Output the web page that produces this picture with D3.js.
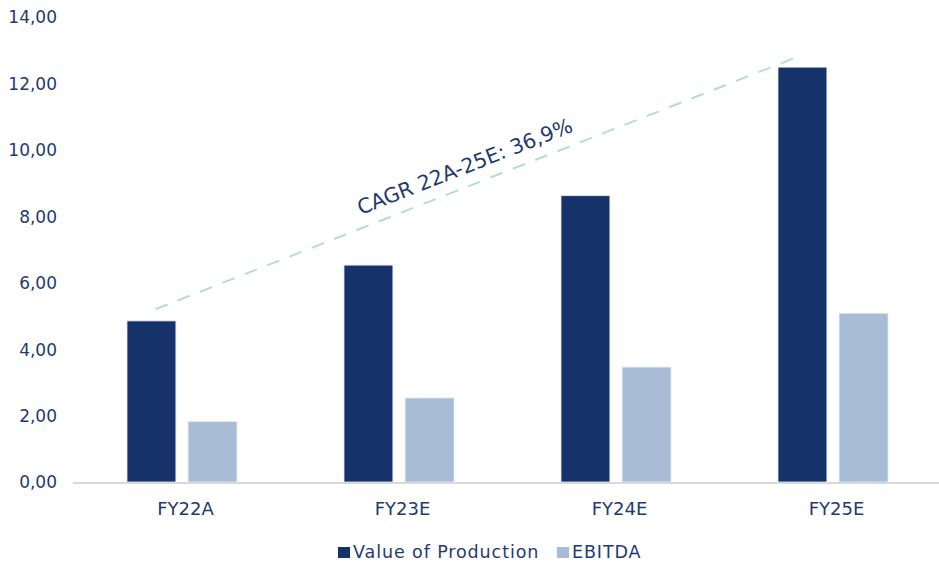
<!DOCTYPE html>
<html>
<head>
<meta charset="utf-8">
<script src="https://cdn.jsdelivr.net/npm/d3@7"></script>
<style>
  body { margin: 0; background: #fff; }
  text { font-family: 'DejaVu Sans', 'Open Sans', sans-serif; }
</style>
</head>
<body>
<div id="chart"></div>
<script>
const categories = ['FY22A', 'FY23E', 'FY24E', 'FY25E']
const seriesNames = ['Value of Production', 'EBITDA']
const valueOfProduction = [4.85, 6.53, 8.62, 12.49]
const ebitda = [1.82, 2.53, 3.46, 5.08]
const yTicks = [0, 2, 4, 6, 8, 10, 12, 14]
const cagrLabel = 'CAGR 22A-25E: 36,9%'
const cagrFrom = 5.2
const cagrTo = 12.8

const width = 939
const height = 567
const margin = { top: 17, right: 0, bottom: 85, left: 73 }
const colors = ['#15336a', '#a8bcd5']
const textColor = '#1f3a70'

const svg = d3
    .select('#chart')
    .append('svg')
    .attr('width', width)
    .attr('height', height)

const x = d3
    .scaleBand()
    .domain(categories)
    .range([margin.left, width + 2])

const x1 = d3
    .scaleBand()
    .domain(seriesNames)
    .range([54, 164])
    .paddingInner(0.2)

const y = d3
    .scaleLinear()
    .domain([0, 14])
    .range([height - margin.bottom, margin.top])

const fmt = (d) => d.toFixed(2).replace('.', ',')

// y axis labels
const yAxis = svg
    .append('g')
    .attr('transform', `translate(${margin.left - 13}, 0)`)
    .call(d3.axisLeft(y).tickValues(yTicks).tickSize(0).tickFormat(fmt))
yAxis.select('.domain').remove()
yAxis
    .selectAll('text')
    .attr('fill', textColor)
    .style('font-size', '17px')
    .style('font-family', "'DejaVu Sans', sans-serif")
    .attr('dy', '0.35em')

// bars
const rows = categories.map((c, i) => ({
    cat: c,
    values: [valueOfProduction[i], ebitda[i]],
}))

const groups = svg
    .selectAll('.group')
    .data(rows)
    .enter()
    .append('g')
    .attr('class', 'group')
    .attr('transform', (d) => `translate(${x(d.cat)}, 0)`)

groups
    .selectAll('rect')
    .data((d) => d.values.map((v, j) => ({ name: seriesNames[j], v, j })))
    .enter()
    .append('rect')
    .attr('x', (d) => x1(d.name))
    .attr('width', x1.bandwidth())
    .attr('y', (d) => y(d.v))
    .attr('height', (d) => y(0) - y(d.v))
    .attr('fill', (d) => colors[d.j])
    .attr('stroke', '#e4e9f2')
    .attr('stroke-width', 0.8)

// x axis
svg.append('line')
    .attr('x1', margin.left)
    .attr('x2', width)
    .attr('y1', y(0) + 1)
    .attr('y2', y(0) + 1)
    .attr('stroke', '#d9d9d9')
    .attr('stroke-width', 2)

svg.append('g')
    .selectAll('text')
    .data(categories)
    .enter()
    .append('text')
    .attr('x', (d) => x(d) + x.bandwidth() / 2 + 4)
    .attr('y', y(0) + 33)
    .attr('text-anchor', 'middle')
    .attr('fill', textColor)
    .style('font-size', '18px')
    .text((d) => d)

// CAGR trend line
const lx1 = x(categories[0]) + x1(seriesNames[0]) + x1.bandwidth() / 2 + 4
const lx2 = x(categories[3]) + x1(seriesNames[0]) + x1.bandwidth() / 2 - 5
svg.append('line')
    .attr('x1', lx1)
    .attr('y1', y(cagrFrom))
    .attr('x2', lx2)
    .attr('y2', y(cagrTo))
    .attr('stroke', '#b4dfcb')
    .attr('stroke-width', 2)
    .attr('stroke-dasharray', '13,11')

const angle =
    (Math.atan2(y(cagrTo) - y(cagrFrom), lx2 - lx1) * 180) / Math.PI
svg.append('text')
    .attr(
        'transform',
        `translate(${(lx1 + lx2) / 2 - 9}, ${(y(cagrFrom) + y(cagrTo)) / 2 - 10}) rotate(${angle})`
    )
    .attr('text-anchor', 'middle')
    .attr('fill', textColor)
    .style('font-size', '20.5px')
    .text(cagrLabel)

// legend
const legend = svg
    .append('g')
    .attr('transform', `translate(338, 558)`)

const items = legend
    .selectAll('g')
    .data(seriesNames)
    .enter()
    .append('g')
    .attr('transform', (d, i) => `translate(${i === 0 ? 0 : 219}, 0)`)

items
    .append('rect')
    .attr('x', 0)
    .attr('y', -11)
    .attr('width', 12)
    .attr('height', 11)
    .attr('fill', (d, i) => colors[i])

items
    .append('text')
    .attr('x', 15)
    .attr('y', 0)
    .attr('fill', textColor)
    .style('font-size', '17.5px')
    .style('letter-spacing', '0.9px')
    .text((d) => d)
</script>
</body>
</html>
